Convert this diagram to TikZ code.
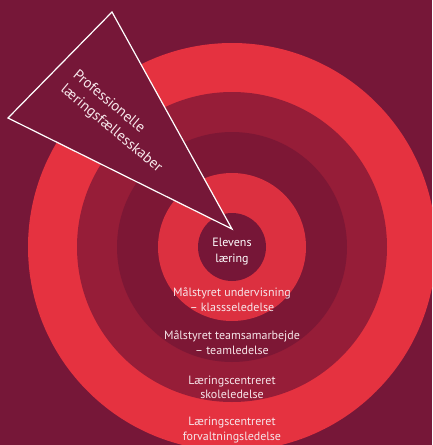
\documentclass[tikz,border=0pt]{standalone}
\usepackage{fontspec}
\setmainfont{PT Sans}
\definecolor{bg}{RGB}{118,23,56}
\definecolor{ringA}{RGB}{229,50,64}
\definecolor{ringB}{RGB}{150,29,56}
\definecolor{ringC}{RGB}{125,23,53}
\definecolor{ringD}{RGB}{220,48,64}
\definecolor{ringE}{RGB}{118,22,55}
\definecolor{txtc}{RGB}{247,230,234}
\tikzset{
  lbl/.style={inner sep=0pt, align=center, text=txtc, font=\fontsize{12}{14.5}\selectfont},
  tri/.style={inner sep=0pt, align=left, text=txtc, rotate=-40, anchor=north west, font=\fontsize{14.8}{19}\selectfont},
}
\begin{document}
\begin{tikzpicture}[x=1pt,y=-1pt]
\useasboundingbox (0,0) rectangle (432,445);
\fill[bg] (0,0) rectangle (432,445);
\clip (0,0) rectangle (432,445);
\coordinate (c) at (232,247);
\fill[ringA] (c) circle (204);
\fill[ringB] (c) circle (155);
\fill[ringC] (c) circle (115);
\fill[ringD] (c) circle (74);
\fill[ringE] (c) circle (34);
\coordinate (ta) at (112,12);
\coordinate (tb) at (8,118);
\coordinate (tc) at (232,229);
\draw[white, line width=1.2pt, fill=bg, line join=miter] (ta) -- (tb) -- (tc) -- cycle;
\node[tri] (p1) at (79,68) {Professionelle\\læringsfællesskaber};
\node[lbl, text=white, font=\fontsize{12}{16.5}\selectfont] (t0) at (232,251.5) {Elevens\\læring};
\node[lbl] (t1) at (232,299.8) {Målstyret undervisning\\– klassseledelse};
\node[lbl] (t2) at (232,342.5) {Målstyret teamsamarbejde\\– teamledelse};
\node[lbl] (t3) at (232,387.5) {Læringscentreret\\skoleledelse};
\node[lbl] (t4) at (232,429.8) {Læringscentreret\\forvaltningsledelse};
\end{tikzpicture}
\end{document}
